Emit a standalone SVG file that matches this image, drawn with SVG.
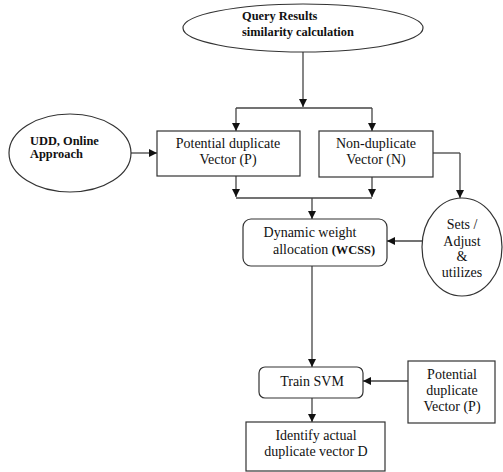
<svg xmlns="http://www.w3.org/2000/svg" width="503" height="472" viewBox="0 0 503 472">
<defs>
<marker id="ah" viewBox="0 0 10 10" refX="10" refY="5" markerWidth="8" markerHeight="8" markerUnits="userSpaceOnUse" orient="auto">
<path d="M0,0 L10,5 L0,10 z" fill="#111"/>
</marker>
<style>
.shape{fill:#fff;stroke:#333;stroke-width:1.2}
text{font-family:'Liberation Serif',serif !important;font-size:14px;fill:#111}
.b{font-weight:bold;font-size:12.4px}
.m{text-anchor:middle}
.c{fill:none;stroke:#444;stroke-width:1.3}
.ca{fill:none;stroke:#444;stroke-width:1.3;marker-end:url(#ah)}
</style>
</defs>
<rect width="503" height="472" fill="#fff"/>
<g id="connectors">
<path class="ca" d="M303,52 V107"/>
<path class="c" d="M236,108 H372"/>
<path class="ca" d="M236,108 V131"/>
<path class="ca" d="M372,108 V131"/>
<path class="ca" d="M130,153 H157"/>
<path class="ca" d="M236,176 V197"/>
<path class="ca" d="M372,177 V197"/>
<path class="c" d="M236,198 H372"/>
<path class="ca" d="M312,198 V219"/>
<path class="c" d="M433,153 H460"/>
<path class="ca" d="M460,153 V198"/>
<path class="ca" d="M423,241 H387"/>
<path class="ca" d="M312,266 V367"/>
<path class="ca" d="M408,381 H363"/>
<path class="ca" d="M312,398 V422"/>
</g>
<g id="query">
<ellipse class="shape" cx="303" cy="28" rx="120" ry="24"/>
<text class="b" x="242" y="20" style="font-family:'Liberation Serif',serif">Query Results</text>
<text class="b" x="242" y="36" style="font-family:'Liberation Serif',serif">similarity calculation</text>
</g>
<g id="udd">
<ellipse class="shape" cx="70" cy="153" rx="61" ry="39"/>
<text class="b" x="30" y="145" style="font-family:'Liberation Serif',serif">UDD, Online</text>
<text class="b" x="30" y="158" style="font-family:'Liberation Serif',serif">Approach</text>
</g>
<g id="potential">
<rect class="shape" x="157" y="131" width="143" height="45"/>
<text class="m" x="228" y="148" style="font-family:'Liberation Serif',serif">Potential duplicate</text>
<text class="m" x="228" y="164" style="font-family:'Liberation Serif',serif">Vector (P)</text>
</g>
<g id="nonduplicate">
<rect class="shape" x="319" y="131" width="114" height="46"/>
<text class="m" x="376" y="148" style="font-family:'Liberation Serif',serif">Non-duplicate</text>
<text class="m" x="376" y="164" style="font-family:'Liberation Serif',serif">Vector (N)</text>
</g>
<g id="dynamic">
<rect class="shape" x="243" y="219" width="144" height="47" rx="8"/>
<text class="m" x="310" y="237" style="font-family:'Liberation Serif',serif">Dynamic weight</text>
<text x="273" y="254" style="font-family:'Liberation Serif',serif">allocation <tspan class="b" style="font-family:'Liberation Serif',serif">(WCSS)</tspan></text>
</g>
<g id="sets">
<ellipse class="shape" cx="462" cy="247" rx="40" ry="49"/>
<text class="m" x="462" y="229" style="font-family:'Liberation Serif',serif">Sets /</text>
<text class="m" x="462" y="246" style="font-family:'Liberation Serif',serif">Adjust</text>
<text class="m" x="462" y="261" style="font-family:'Liberation Serif',serif">&amp;</text>
<text class="m" x="462" y="277" style="font-family:'Liberation Serif',serif">utilizes</text>
</g>
<g id="train">
<rect class="shape" x="259" y="367" width="104" height="31" rx="6"/>
<text class="m" x="312" y="386" style="font-family:'Liberation Serif',serif">Train SVM</text>
</g>
<g id="potential2">
<rect class="shape" x="408" y="361" width="87" height="62"/>
<text class="m" x="452" y="379" style="font-family:'Liberation Serif',serif">Potential</text>
<text class="m" x="452" y="395" style="font-family:'Liberation Serif',serif">duplicate</text>
<text class="m" x="452" y="411" style="font-family:'Liberation Serif',serif">Vector (P)</text>
</g>
<g id="identify">
<rect class="shape" x="246" y="422" width="139" height="49"/>
<text class="m" x="316" y="440" style="font-family:'Liberation Serif',serif">Identify actual</text>
<text class="m" x="316" y="456" style="font-family:'Liberation Serif',serif">duplicate vector D</text>
</g>
</svg>
